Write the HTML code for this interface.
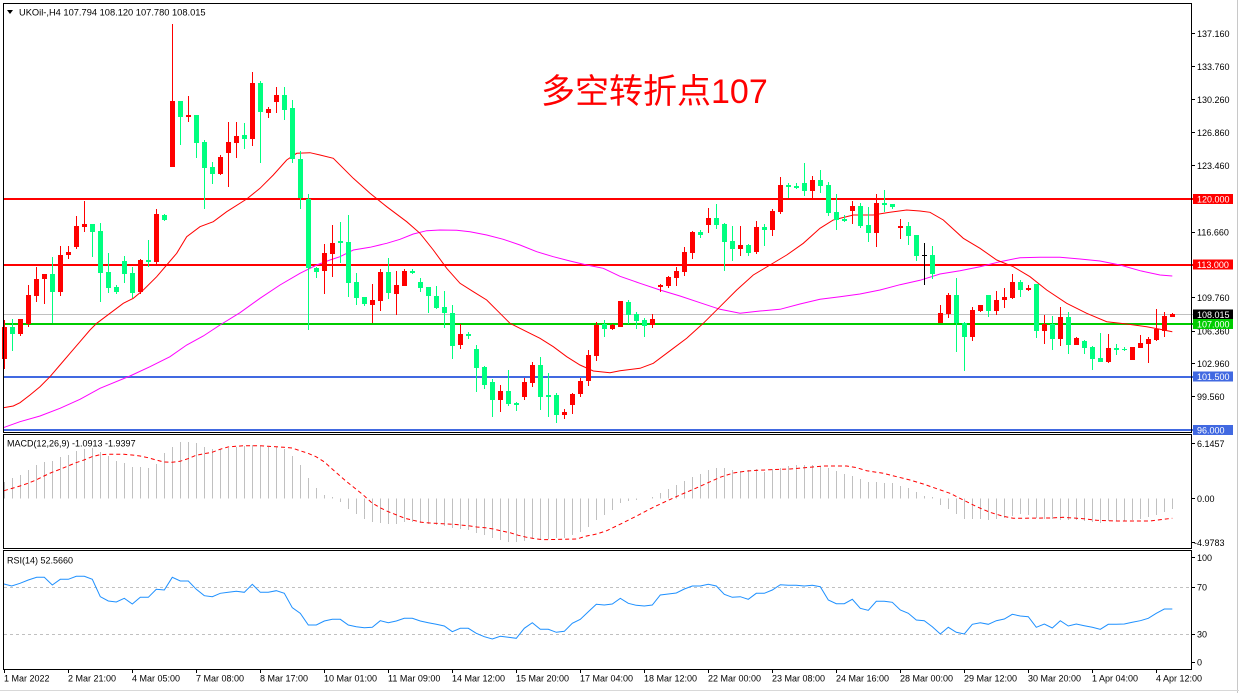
<!DOCTYPE html>
<html><head><meta charset="utf-8"><style>
html,body{margin:0;padding:0;background:#fff;width:1239px;height:693px;overflow:hidden}
svg{display:block}
text{font-family:"Liberation Sans","Noto Sans CJK SC",sans-serif;font-size:9px;fill:#000}
</style></head><body>
<svg width="1239" height="693" viewBox="0 0 1239 693" xmlns="http://www.w3.org/2000/svg">
<rect x="0" y="0" width="1239" height="693" fill="#fff"/>
<line x1="1237.5" y1="0" x2="1237.5" y2="693" stroke="#c8c8c8"/>
<line x1="0" y1="690.5" x2="1239" y2="690.5" stroke="#d8d8d8"/>

<!-- level lines -->
<g shape-rendering="crispEdges">
<rect x="3" y="198" width="1190" height="2" fill="#ff0000"/>
<rect x="3" y="264" width="1190" height="2" fill="#ff0000"/>
<rect x="3" y="314" width="1190" height="1" fill="#c0c0c0"/>
<rect x="3" y="323" width="1190" height="2" fill="#00cc00"/>
<rect x="3" y="376" width="1190" height="2" fill="#4169e1"/>
<rect x="3" y="429" width="1190" height="2" fill="#4169e1"/>
</g>

<!-- moving averages -->
<polyline fill="none" stroke="#ff00ff" stroke-width="1" points="3.3,427.7 20,421.7 40,416 60,408.3 80,399.3 100,388.3 130,376 150,366.7 170,356.7 186.7,345 203.3,336 220,325 240,312.7 260,298.3 280,285 300,273.3 316.7,265 330,260 340,256.7 353.3,250 370,247.3 386.7,243.3 400,239.3 413.3,234 426.7,230.7 440,230 456.7,230.3 470,231.7 486.7,235 503.3,239.3 520,245 536.7,251.7 553.3,256.7 570,261 586.7,265 603.3,268.3 620,276.3 640,283.3 660,290 680,296 700,302.7 720,309.3 740,313.3 760,311 780,309.3 800,304 820,299.3 840,296.7 860,294 880,290 900,284.7 920,280.3 940,274 960,270.7 980,266.7 1000,261.7 1020,257.7 1040,257.3 1060,257.3 1080,259 1100,261 1120,265 1140,270.7 1160,275 1172.3,276"/>
<polyline fill="none" stroke="#ff0000" stroke-width="1" points="3.3,407.7 13.3,406 20,402.7 30,395 40,386.7 50,376.7 60,365 70,353.3 80,341.7 90,330 96.7,323.3 110,313.3 123.3,303.3 133.3,298.3 143.3,290 156.7,276.7 166.7,265 176.7,253.3 186.7,236.7 200,226.7 213.3,221.7 226.7,211.7 246.7,199 260,188.3 273.3,175 286.7,160 296.7,153.3 310,152.7 320,155 333.3,158.3 353.3,178.3 370,193.3 386.7,206.7 406.7,221.7 420,233.3 433.3,250 446.7,268.3 460,283.3 473.3,291.7 486.7,300 500,313.3 510,323.3 526.7,331.7 540,338.3 553.3,346.7 566.7,356.7 580,365 593.3,371 610,372.7 620,370.7 640,368.3 653.3,363.3 673.3,348.3 686.7,338.3 703.3,323.3 720,306.7 736.7,290 753.3,275 770,265 786.7,255 803.3,243.3 820,228.3 833.3,220 853.3,215 873.3,215 886.7,212.7 906.7,210 920,211 930,212.3 943.3,220 963.3,238.3 980,248.3 996.7,260 1013.3,266.7 1030,276.7 1046.7,290 1066.7,303.3 1086.7,313.3 1106.7,321.7 1126.7,324 1146.7,326.7 1160,329.3 1172.3,331.7"/>

<!-- candles -->
<g shape-rendering="crispEdges">
<path fill="#ff0000" d="M4 320h1V369h-1zM2 327h5V359h-5zM20 319h1V336h-1zM18 319h5V334h-5zM28 285h1V327h-1zM26 295h5V324h-5zM36 267h1V302h-1zM34 279h5V296h-5zM44 274h1V304h-1zM42 274h5V279h-5zM60 246h1V296h-1zM58 255h5V292h-5zM68 246h1V259h-1zM66 252h5V255h-5zM76 216h1V249h-1zM74 226h5V247h-5zM84 201h1V232h-1zM82 224h5V227h-5zM140 259h1V294h-1zM138 260h5V292h-5zM156 209h1V265h-1zM154 214h5V262h-5zM172 24h1V167h-1zM170 101h5V167h-5zM188 96h1V122h-1zM186 115h5V117h-5zM220 155h1V175h-1zM218 157h5V174h-5zM228 122h1V187h-1zM226 142h5V153h-5zM236 122h1V158h-1zM234 136h5V143h-5zM252 72h1V146h-1zM250 83h5V139h-5zM268 107h1V118h-1zM266 109h5V113h-5zM276 87h1V113h-1zM274 95h5V102h-5zM324 244h1V294h-1zM322 253h5V271h-5zM332 225h1V277h-1zM330 243h5V254h-5zM372 284h1V323h-1zM370 300h5V305h-5zM380 269h1V311h-1zM378 272h5V301h-5zM396 271h1V315h-1zM394 285h5V294h-5zM404 269h1V286h-1zM402 271h5V286h-5zM460 324h1V349h-1zM458 334h5V345h-5zM500 385h1V412h-1zM498 391h5V400h-5zM524 378h1V400h-1zM522 382h5V397h-5zM532 362h1V387h-1zM530 365h5V383h-5zM564 409h1V419h-1zM562 412h5V415h-5zM572 393h1V414h-1zM570 394h5V405h-5zM580 378h1V397h-1zM578 381h5V394h-5zM588 350h1V386h-1zM586 355h5V381h-5zM596 322h1V361h-1zM594 325h5V356h-5zM612 324h1V330h-1zM610 325h5V329h-5zM620 301h1V327h-1zM618 301h5V327h-5zM652 314h1V328h-1zM650 319h5V325h-5zM660 284h1V292h-1zM658 285h5V287h-5zM668 276h1V288h-1zM666 277h5V286h-5zM676 267h1V286h-1zM674 271h5V278h-5zM684 247h1V276h-1zM682 252h5V272h-5zM692 231h1V259h-1zM690 232h5V253h-5zM708 208h1V233h-1zM706 218h5V225h-5zM740 226h1V256h-1zM738 245h5V249h-5zM756 221h1V254h-1zM754 227h5V252h-5zM772 209h1V236h-1zM770 211h5V230h-5zM780 177h1V214h-1zM778 185h5V212h-5zM812 176h1V199h-1zM810 180h5V191h-5zM852 201h1V224h-1zM850 206h5V211h-5zM876 194h1V247h-1zM874 203h5V233h-5zM900 219h1V239h-1zM898 226h5V228h-5zM940 305h1V323h-1zM938 313h5V323h-5zM948 293h1V318h-1zM946 295h5V314h-5zM972 307h1V341h-1zM970 310h5V337h-5zM980 305h1V312h-1zM978 305h5V311h-5zM996 291h1V315h-1zM994 300h5V311h-5zM1004 288h1V308h-1zM1002 297h5V300h-5zM1012 274h1V299h-1zM1010 282h5V298h-5zM1028 285h1V291h-1zM1026 288h5V290h-5zM1044 315h1V344h-1zM1042 324h5V331h-5zM1060 307h1V346h-1zM1058 317h5V339h-5zM1076 337h1V345h-1zM1074 338h5V345h-5zM1108 334h1V363h-1zM1106 348h5V362h-5zM1132 347h1V360h-1zM1130 347h5V360h-5zM1140 335h1V348h-1zM1138 343h5V348h-5zM1148 337h1V363h-1zM1146 339h5V344h-5zM1156 309h1V341h-1zM1154 329h5V340h-5zM1164 312h1V337h-1zM1162 316h5V331h-5zM1172 313h1V317h-1zM1170 314h5V317h-5z"/>
<path fill="#00ff7f" d="M12 319h1V351h-1zM10 327h5V334h-5zM52 257h1V323h-1zM50 274h5V292h-5zM92 224h1V257h-1zM90 224h5V232h-5zM100 223h1V302h-1zM98 231h5V273h-5zM108 253h1V293h-1zM106 272h5V288h-5zM116 285h1V294h-1zM114 287h5V292h-5zM124 256h1V283h-1zM122 261h5V274h-5zM132 267h1V298h-1zM130 273h5V293h-5zM148 240h1V267h-1zM146 260h5V262h-5zM164 214h1V221h-1zM162 215h5V220h-5zM180 101h1V145h-1zM178 101h5V117h-5zM196 115h1V158h-1zM194 115h5V143h-5zM204 140h1V209h-1zM202 142h5V168h-5zM212 162h1V184h-1zM210 167h5V174h-5zM244 123h1V149h-1zM242 135h5V139h-5zM260 81h1V163h-1zM258 83h5V112h-5zM284 87h1V120h-1zM282 95h5V110h-5zM292 100h1V163h-1zM290 108h5V159h-5zM300 151h1V209h-1zM298 159h5V198h-5zM308 194h1V330h-1zM306 199h5V268h-5zM316 267h1V278h-1zM314 268h5V272h-5zM340 222h1V263h-1zM338 241h5V243h-5zM348 215h1V297h-1zM346 242h5V283h-5zM356 273h1V305h-1zM354 282h5V298h-5zM364 297h1V306h-1zM362 297h5V304h-5zM388 258h1V299h-1zM386 272h5V293h-5zM412 269h1V274h-1zM410 271h5V273h-5zM420 278h1V292h-1zM418 282h5V288h-5zM428 287h1V313h-1zM426 287h5V296h-5zM436 286h1V309h-1zM434 296h5V308h-5zM444 291h1V328h-1zM442 307h5V313h-5zM452 305h1V359h-1zM450 313h5V346h-5zM468 332h1V339h-1zM466 334h5V336h-5zM476 345h1V392h-1zM474 349h5V368h-5zM484 366h1V389h-1zM482 367h5V385h-5zM492 379h1V417h-1zM490 382h5V400h-5zM508 370h1V406h-1zM506 391h5V404h-5zM516 402h1V411h-1zM514 403h5V405h-5zM540 357h1V410h-1zM538 365h5V397h-5zM548 373h1V417h-1zM546 395h5V397h-5zM556 393h1V423h-1zM554 395h5V415h-5zM604 320h1V337h-1zM602 324h5V329h-5zM628 300h1V324h-1zM626 302h5V315h-5zM636 312h1V329h-1zM634 314h5V321h-5zM644 318h1V337h-1zM642 320h5V326h-5zM700 230h1V238h-1zM698 232h5V235h-5zM716 204h1V229h-1zM714 218h5V225h-5zM724 223h1V271h-1zM722 224h5V242h-5zM732 226h1V261h-1zM730 241h5V249h-5zM748 244h1V256h-1zM746 245h5V253h-5zM764 224h1V246h-1zM762 227h5V230h-5zM788 183h1V198h-1zM786 185h5V187h-5zM796 183h1V189h-1zM794 186h5V188h-5zM804 163h1V196h-1zM802 183h5V191h-5zM820 170h1V193h-1zM818 180h5V186h-5zM828 182h1V216h-1zM826 185h5V213h-5zM836 194h1V230h-1zM834 212h5V220h-5zM844 215h1V222h-1zM842 219h5V221h-5zM860 203h1V228h-1zM858 206h5V226h-5zM868 207h1V242h-1zM866 225h5V233h-5zM884 190h1V212h-1zM882 203h5V205h-5zM892 204h1V209h-1zM890 204h5V207h-5zM908 222h1V245h-1zM906 226h5V236h-5zM916 235h1V261h-1zM914 235h5V256h-5zM932 246h1V279h-1zM930 255h5V274h-5zM956 278h1V352h-1zM954 295h5V323h-5zM964 322h1V371h-1zM962 323h5V337h-5zM988 295h1V317h-1zM986 295h5V311h-5zM1020 280h1V297h-1zM1018 282h5V290h-5zM1036 284h1V338h-1zM1034 284h5V331h-5zM1052 316h1V350h-1zM1050 324h5V339h-5zM1068 312h1V354h-1zM1066 317h5V345h-5zM1084 340h1V354h-1zM1082 341h5V348h-5zM1092 346h1V370h-1zM1090 347h5V359h-5zM1100 333h1V362h-1zM1098 358h5V362h-5zM1116 344h1V355h-1zM1114 348h5V350h-5zM1124 347h1V351h-1zM1122 349h5V350h-5z"/>
<path fill="#000" d="M924 243h1V285h-1zM922 255h5V256h-5z"/>
</g>

<!-- panel borders -->
<g fill="none" stroke="#000" stroke-width="1" shape-rendering="crispEdges">
<rect x="3.5" y="3.5" width="1188" height="429"/>
<rect x="3.5" y="434.5" width="1188" height="114"/>
<rect x="3.5" y="550.5" width="1188" height="119"/>
</g>

<!-- header -->
<polygon points="7,10 13,10 10,14" fill="#000"/>
<text x="19" y="15.5" style="font-size:9.3px">UKOil-,H4  107.794 108.120 107.780 108.015</text>

<!-- title -->
<text x="541" y="103" style="font-size:34px;fill:#ff0000">多空转折点107</text>

<!-- right price axis -->
<g stroke="#000" shape-rendering="crispEdges">
<path d="M1192 33.5h3M1192 66.5h3M1192 99.5h3M1192 132.5h3M1192 165.5h3M1192 232.5h3M1192 297.5h3M1192 331.5h3M1192 363.5h3M1192 396.5h3M1192 443.5h3M1192 498.5h3M1192 542.5h3M1192 557.5h3M1192 587.5h3M1192 634.5h3M1192 662.5h3"/>
</g>
<g>
<text x="1197" y="36.8">137.160</text>
<text x="1197" y="70">133.760</text>
<text x="1197" y="102.8">130.260</text>
<text x="1197" y="136">126.860</text>
<text x="1197" y="168.8">123.460</text>
<text x="1197" y="235.5">116.660</text>
<text x="1197" y="301">109.760</text>
<text x="1197" y="334.5">106.360</text>
<text x="1197" y="367">102.960</text>
<text x="1197" y="400">99.560</text>
</g>
<g shape-rendering="crispEdges">
<rect x="1193" y="194" width="40" height="10" fill="#ff0000"/>
<rect x="1193" y="259.5" width="40" height="10" fill="#ff0000"/>
<rect x="1193" y="309.5" width="40" height="10" fill="#000"/>
<rect x="1193" y="319" width="40" height="10" fill="#00cc00"/>
<rect x="1193" y="371.5" width="40" height="10" fill="#4169e1"/>
<rect x="1193" y="425" width="40" height="10" fill="#4169e1"/>
</g>
<g style="fill:#fff">
<text x="1197" y="202.5" style="fill:#fff">120.000</text>
<text x="1197" y="268" style="fill:#fff">113.000</text>
<text x="1197" y="318" style="fill:#fff">108.015</text>
<text x="1197" y="327.5" style="fill:#fff">107.000</text>
<text x="1197" y="380" style="fill:#fff">101.500</text>
<text x="1197" y="433.5" style="fill:#fff">96.000</text>
</g>

<!-- MACD -->
<text x="7" y="446.7">MACD(12,26,9) -1.0913 -1.9397</text>
<path fill="none" stroke="#c0c0c0" stroke-width="1" shape-rendering="crispEdges" d="M4.5 498.5V482M12.5 498.5V478M20.5 498.5V475M28.5 498.5V470M36.5 498.5V465M44.5 498.5V462M52.5 498.5V461M60.5 498.5V457M68.5 498.5V455M76.5 498.5V451M84.5 498.5V449M92.5 498.5V448M100.5 498.5V452M108.5 498.5V456M116.5 498.5V461M124.5 498.5V463M132.5 498.5V467M140.5 498.5V467M148.5 498.5V468M156.5 498.5V464M164.5 498.5V453M172.5 498.5V447M180.5 498.5V442M188.5 498.5V442M196.5 498.5V443M204.5 498.5V447M212.5 498.5V449M220.5 498.5V449M228.5 498.5V448M236.5 498.5V447M244.5 498.5V446M252.5 498.5V445M260.5 498.5V446M268.5 498.5V447M276.5 498.5V447M284.5 498.5V449M292.5 498.5V456M300.5 498.5V465M308.5 498.5V478M316.5 498.5V488M324.5 498.5V495M332.5 498.5V497M340.5 498.5V502M348.5 498.5V509M356.5 498.5V514M364.5 498.5V519M372.5 498.5V522M380.5 498.5V523M388.5 498.5V524M396.5 498.5V524M404.5 498.5V522M412.5 498.5V522M420.5 498.5V523M428.5 498.5V524M436.5 498.5V525M444.5 498.5V526M452.5 498.5V528M460.5 498.5V529M468.5 498.5V530M476.5 498.5V533M484.5 498.5V535M492.5 498.5V538M500.5 498.5V540M508.5 498.5V542M516.5 498.5V542M524.5 498.5V541M532.5 498.5V539M540.5 498.5V539M548.5 498.5V539M556.5 498.5V538M564.5 498.5V538M572.5 498.5V535M580.5 498.5V532M588.5 498.5V527M596.5 498.5V520M604.5 498.5V515M612.5 498.5V510M620.5 498.5V503M628.5 498.5V501M636.5 498.5V500M652.5 498.5V497M660.5 498.5V493M668.5 498.5V489M676.5 498.5V485M684.5 498.5V481M692.5 498.5V477M700.5 498.5V474M708.5 498.5V470M716.5 498.5V468M724.5 498.5V468M732.5 498.5V470M740.5 498.5V471M748.5 498.5V470M756.5 498.5V469M764.5 498.5V472M772.5 498.5V469M780.5 498.5V468M788.5 498.5V466M796.5 498.5V465M804.5 498.5V465M812.5 498.5V465M820.5 498.5V466M828.5 498.5V468M836.5 498.5V471M844.5 498.5V474M852.5 498.5V476M860.5 498.5V479M868.5 498.5V482M876.5 498.5V482M884.5 498.5V483M892.5 498.5V483M900.5 498.5V486M908.5 498.5V488M916.5 498.5V492M924.5 498.5V496M932.5 498.5V497M940.5 498.5V505M948.5 498.5V509M956.5 498.5V514M964.5 498.5V519M972.5 498.5V519M980.5 498.5V519M988.5 498.5V520M996.5 498.5V519M1004.5 498.5V518M1012.5 498.5V516M1020.5 498.5V514M1028.5 498.5V515M1036.5 498.5V518M1044.5 498.5V519M1052.5 498.5V519M1060.5 498.5V520M1068.5 498.5V520M1076.5 498.5V520M1084.5 498.5V521M1092.5 498.5V522M1100.5 498.5V523M1108.5 498.5V521M1116.5 498.5V521M1124.5 498.5V521M1132.5 498.5V520M1140.5 498.5V519M1148.5 498.5V517M1156.5 498.5V515M1164.5 498.5V512M1172.5 498.5V509"/>
<polyline fill="none" stroke="#ff0000" stroke-width="1" stroke-dasharray="4 3" points="4,490.7 20,486 28,483.3 36,480 44,476 52,472.3 60,469.3 68,466 76,462.7 84,460 92,456.7 100,454.7 108,454.3 124,454.3 132,455 140,456 148,457.7 156,460 164,462 172,462.3 180,461.3 188,458.7 196,455.3 204,453.7 212,452.3 220,449.3 228,447 236,446.3 244,445.7 260,445.7 268,446.3 284,447.3 292,448 300,450.7 308,453.3 316,456.7 324,461.7 333.3,470 346.7,481.7 363.3,495 371.7,502.7 380,507.7 388.3,511.7 396.7,515 405,518.3 413.3,520.3 421.7,522.3 430,523 453.3,524.3 468.3,525.7 476.7,527 485,527.7 493.3,529 501.7,531 510,532.7 518.3,535.3 526.7,537.3 535,538.7 543.3,539.7 576.7,539 586.7,536 596.7,534 606.7,530.7 620,524.3 636.7,516 653.3,507.3 666.7,501 680,495 693.3,489.3 706.7,483.3 720,477.3 733.3,473 746.7,471 758.3,470.3 770,469.7 790,469 810,467.3 823.3,466 846.7,466 856.7,467.7 866.7,470.7 883.3,473.3 896.7,476.7 910,480 923.3,484 936.7,488.7 950,493.3 963.3,500 976.7,506.7 990,512.3 1003.3,516.3 1013.3,518.3 1050,518 1063.3,517.3 1083.3,518.7 1096.7,520.3 1116.7,521 1150,521 1163.3,519.3 1172.3,518.3"/>
<text x="1197" y="446.8">6.1457</text>
<text x="1197" y="501.8">0.00</text>
<text x="1194" y="546.2">-4.9783</text>

<!-- RSI -->
<text x="7" y="563.3">RSI(14) 52.5660</text>
<g stroke="#c0c0c0" stroke-dasharray="3 3" shape-rendering="crispEdges">
<line x1="4" y1="587.5" x2="1191" y2="587.5"/>
<line x1="4" y1="634.5" x2="1191" y2="634.5"/>
</g>
<polyline fill="none" stroke="#1e90ff" stroke-width="1" points="4,584 11.7,586 20,583.3 28.3,580 36.7,577.3 44.3,577.3 52.3,585 60.3,579.3 68.3,579.3 76.3,576.3 84.3,576.3 92.3,579.3 100.3,596.7 108.3,601 116.3,602 124.3,598.3 132.3,604 140.3,597.3 148.3,597.3 156.3,589.3 164.3,590 172.3,577.3 180.3,581 188.3,581 196.3,589.3 204.3,595.7 212.3,596.7 220.3,593.3 228.3,592.3 236.3,591.3 244.3,592.3 252.3,584.3 260.3,592.3 268.3,592.3 276.3,590.7 284.3,593.3 292.3,607.7 300.3,613.3 308.3,625 316.3,625 324.3,621 332.3,619.3 340.3,619.3 348.3,625 356.3,626.7 364.3,627.7 372.3,627.3 380.3,620.7 388.3,622.7 396.3,621 404.3,618.3 412.3,618.3 420.3,621 428.3,622.7 436.3,624.3 444.3,626 452.3,631.7 460.3,628.3 468.3,628.3 476.3,633.3 484.3,636.7 492.3,639 500.3,636.3 508.3,637.3 516.3,638.3 524.3,628.3 532.3,622.7 540.3,629.3 548.3,629.3 556.3,632.3 564.3,631.3 572.3,623.3 580.3,619.3 588.3,611.7 596.3,604.3 604.3,605 612.3,604 620.3,598.3 628.3,603.3 636.3,605.3 644.3,606 652.3,605 660.3,595 668.3,594 676.3,593 684.3,589 692.3,586 700.3,586 708.3,584.3 716.3,586 724.3,594.3 732.3,597.3 740.3,596.7 748.3,599.3 756.3,593.3 764.3,593.3 772.3,590 780.3,584.7 788.3,585.3 796.3,585.3 804.3,586 812.3,585.3 820.3,586.7 828.3,600 836.3,603.7 844.3,603.7 852.3,599.3 860.3,608.3 868.3,610.3 876.3,601.3 884.3,601.3 892.3,602.3 900.3,610 908.3,613.3 916.3,620 924.3,620.7 932.3,626.7 940.3,634 948.3,627.3 956.3,632.3 964.3,634 972.3,624.3 980.3,622.7 988.3,624.3 996.3,620.7 1004.3,619 1012.3,614.3 1020.3,616 1028.3,616.7 1036.3,627.3 1044.3,624 1052.3,628 1060.3,620.7 1068.3,626 1076.3,624 1084.3,625.7 1092.3,627.3 1100.3,629.3 1108.3,624.3 1116.3,624.3 1124.3,624 1132.3,622.3 1140.3,620.7 1148.3,618.3 1156.3,613.3 1164.3,609 1172.3,609"/>
<text x="1197" y="561">100</text>
<text x="1197" y="590.7">70</text>
<text x="1197" y="637.4">30</text>
<text x="1197" y="665.7">0</text>

<!-- time axis -->
<path stroke="#000" shape-rendering="crispEdges" d="M4.5 670v3M68.5 670v3M132.5 670v3M196.5 670v3M260.5 670v3M324.5 670v3M388.5 670v3M452.5 670v3M516.5 670v3M580.5 670v3M644.5 670v3M708.5 670v3M772.5 670v3M836.5 670v3M900.5 670v3M964.5 670v3M1028.5 670v3M1092.5 670v3M1156.5 670v3"/>
<g>
<text x="4" y="681.7">1 Mar 2022</text>
<text x="68" y="681.7">2 Mar 21:00</text>
<text x="132" y="681.7">4 Mar 05:00</text>
<text x="196" y="681.7">7 Mar 08:00</text>
<text x="260" y="681.7">8 Mar 17:00</text>
<text x="324" y="681.7">10 Mar 01:00</text>
<text x="388" y="681.7">11 Mar 09:00</text>
<text x="452" y="681.7">14 Mar 12:00</text>
<text x="516" y="681.7">15 Mar 20:00</text>
<text x="580" y="681.7">17 Mar 04:00</text>
<text x="644" y="681.7">18 Mar 12:00</text>
<text x="708" y="681.7">22 Mar 00:00</text>
<text x="772" y="681.7">23 Mar 08:00</text>
<text x="836" y="681.7">24 Mar 16:00</text>
<text x="900" y="681.7">28 Mar 00:00</text>
<text x="964" y="681.7">29 Mar 12:00</text>
<text x="1028" y="681.7">30 Mar 20:00</text>
<text x="1092" y="681.7">1 Apr 04:00</text>
<text x="1156" y="681.7">4 Apr 12:00</text>
</g>
</svg>
</body></html>
